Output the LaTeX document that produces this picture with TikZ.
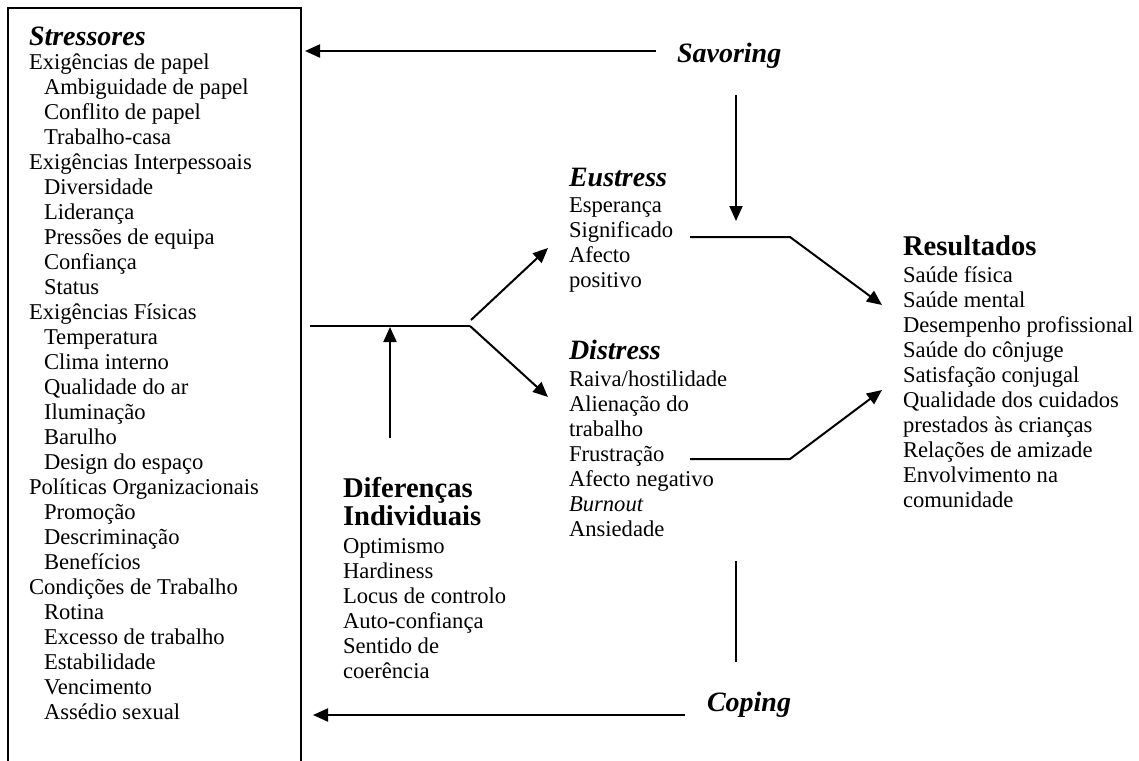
\documentclass[tikz,border=0pt]{standalone}
\usepackage{fontspec}
\setmainfont{Liberation Serif}
\usetikzlibrary{arrows.meta}

\newcommand{\ind}{\hspace*{7.5pt}}

\begin{document}
\begin{tikzpicture}[x=0.5pt, y=-0.5pt, line width=1pt,
    every node/.style={inner sep=0pt, anchor=base west, align=left},
    body/.style={font=\fontsize{11.3pt}{12.5pt}\selectfont},
    head/.style={font=\fontsize{14pt}{14pt}\selectfont\bfseries\itshape},
    headup/.style={font=\fontsize{14.3pt}{14pt}\selectfont\bfseries},
    arr/.style={-{Triangle[length=7.5pt,width=6.5pt]}}]
    \useasboundingbox (0,0) rectangle (1139,760);

    % stressores box (runs off the bottom)
    \draw (8,775) -- (8,8) -- (301,8) -- (301,775);
    \node[head] (stressores) at (28,45) {Stressores};
    % lists are placed by the baseline of their last line
    \node[body] (stressorlist) at (28,719) {Exigências de papel\\
        \ind Ambiguidade de papel\\ \ind Conflito de papel\\ \ind Trabalho-casa\\
        Exigências Interpessoais\\
        \ind Diversidade\\ \ind Liderança\\ \ind Pressões de equipa\\ \ind Confiança\\ \ind Status\\
        Exigências Físicas\\
        \ind Temperatura\\ \ind Clima interno\\ \ind Qualidade do ar\\ \ind Iluminação\\ \ind Barulho\\ \ind Design do espaço\\
        Políticas Organizacionais\\
        \ind Promoção\\ \ind Descriminação\\ \ind Benefícios\\
        Condições de Trabalho\\
        \ind Rotina\\ \ind Excesso de trabalho\\ \ind Estabilidade\\ \ind Vencimento\\ \ind Assédio sexual};

    \node[head] (savoring) at (676,62) {Savoring};
    \node[head] (coping) at (706,711) {Coping};

    \node[head] (eustress) at (568,186) {Eustress};
    \node[body] (eustresslist) at (568,287) {Esperança\\ Significado\\ Afecto\\ positivo};

    \node[head] (distress) at (568,359) {Distress};
    \node[body] (distresslist) at (568,536) {Raiva/hostilidade\\ Alienação do\\ trabalho\\
        Frustração\\ Afecto negativo\\ \textit{Burnout}\\ Ansiedade};

    \node[headup] (diferencas) at (342,525) {Diferenças\\ Individuais};
    \node[body] (diferencaslist) at (342,678) {Optimismo\\ Hardiness\\ Locus de controlo\\
        Auto-confiança\\ Sentido de\\ coerência};

    \node[headup] (resultados) at (902,255) {Resultados};
    \node[body] (resultadoslist) at (902,507) {Saúde física\\ Saúde mental\\ Desempenho profissional\\
        Saúde do cônjuge\\ Satisfação conjugal\\ Qualidade dos cuidados\\ prestados às crianças\\
        Relações de amizade\\ Envolvimento na\\ comunidade};

    % connector points
    \coordinate (savfrom) at (656,51);   \coordinate (savto) at (305,51);
    \coordinate (savtop) at (736,95);    \coordinate (savdown) at (736,221);
    \coordinate (stin) at (310,326);     \coordinate (split) at (470,326);
    \coordinate (splitup) at (471,320);
    \coordinate (eutip) at (548,248);    \coordinate (ditip) at (548,397);
    \coordinate (difbot) at (390,438);   \coordinate (difup) at (390,327);
    \coordinate (eufrom) at (690,237);   \coordinate (eubend) at (790,237);
    \coordinate (restop) at (882,305);
    \coordinate (difrom) at (690,459);   \coordinate (dibend) at (790,459);
    \coordinate (resbot) at (882,390);
    \coordinate (coptop) at (736,561);   \coordinate (copbot) at (736,662);
    \coordinate (copfrom) at (685,715);  \coordinate (copto) at (313,715);

    \draw[arr] (savfrom) -- (savto);
    \draw[arr] (savtop) -- (savdown);
    \draw (stin) -- (split);
    \draw[arr] (splitup) -- (eutip);
    \draw[arr] (split) -- (ditip);
    \draw[arr] (difbot) -- (difup);
    \draw[arr] (eufrom) -- (eubend) -- (restop);
    \draw[arr] (difrom) -- (dibend) -- (resbot);
    \draw (coptop) -- (copbot);
    \draw[arr] (copfrom) -- (copto);
\end{tikzpicture}
\end{document}
